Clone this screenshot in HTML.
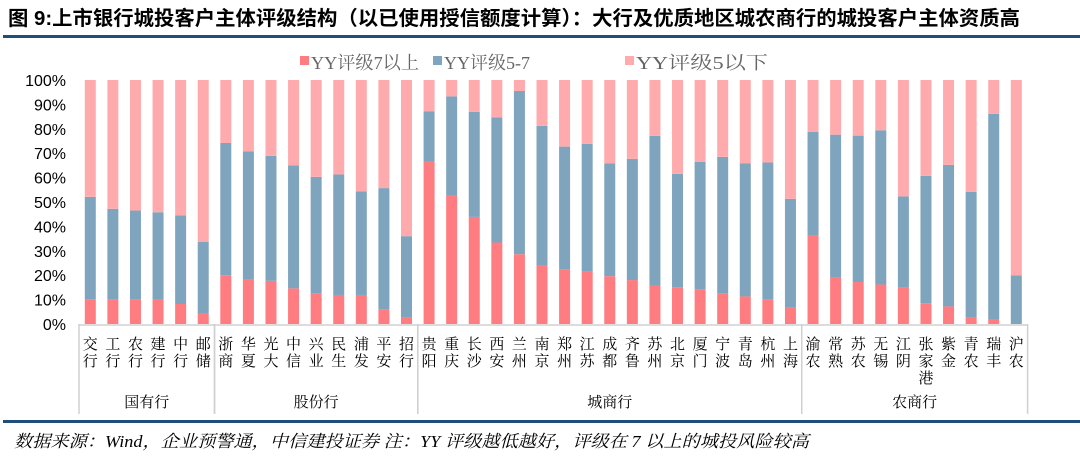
<!DOCTYPE html>
<html><head><meta charset="utf-8"><style>
body{margin:0;background:#fff;width:1080px;height:458px;overflow:hidden}
svg{display:block}
</style></head><body>
<svg id="chart" width="1080" height="458" xmlns="http://www.w3.org/2000/svg">
<text x="8" y="25" font-family="Liberation Sans, Noto Sans CJK SC, sans-serif" font-weight="bold" font-size="20" textLength="1012" lengthAdjust="spacingAndGlyphs" fill="#000">图 9:上市银行城投客户主体评级结构（以已使用授信额度计算）：大行及优质地区城农商行的城投客户主体资质高</text>
<rect x="3" y="35" width="1077" height="3" fill="#1f4e79"/>
<g font-family="Liberation Serif, Noto Serif CJK SC, serif" font-size="18" fill="#666">
<rect x="300" y="56" width="9" height="9" fill="#FF7C80"/>
<text x="311" y="69" textLength="108" lengthAdjust="spacingAndGlyphs">YY评级7以上</text>
<rect x="433" y="56" width="9" height="9" fill="#7FA4BE"/>
<text x="444" y="69">YY评级5-7</text>
<rect x="625" y="56" width="9" height="9" fill="#FFABAD"/>
<text x="636" y="69" textLength="132" lengthAdjust="spacingAndGlyphs">YY评级5以下</text>
</g>
<g id="plot"></g>
<rect x="3" y="420" width="1077" height="3" fill="#1f4e79"/>
<text x="14" y="447" font-family="Liberation Serif, Noto Serif CJK SC, serif" font-style="italic" font-size="17" textLength="795" lengthAdjust="spacingAndGlyphs" fill="#000">数据来源：Wind，企业预警通，中信建投证券  注：YY 评级越低越好，评级在 7 以上的城投风险较高</text>
</svg>
<script>
const categories=["交行","工行","农行","建行","中行","邮储","浙商","华夏","光大","中信","兴业","民生","浦发","平安","招行","贵阳","重庆","长沙","西安","兰州","南京","郑州","江苏","成都","齐鲁","苏州","北京","厦门","宁波","青岛","杭州","上海","渝农","常熟","苏农","无锡","江阴","张家港","紫金","青农","瑞丰","沪农"];
const highShare=[10.2,10.1,10.1,10,8.2,4.5,20,18.1,17.7,14.6,12.4,11.9,11.9,6,2.6,66.8,52.5,43.9,33.4,28.6,24,22.5,21.4,19.6,18,15.6,15.1,14.2,12.4,11.3,10.1,6.7,36.3,19,17.2,16.2,14.9,8.5,7.2,2.6,1.8,0];
const midShare=[41.9,37.1,36.4,35.8,36.3,29.1,54.2,52.7,51.2,50.4,47.9,49.4,42.5,49.7,33.4,20.4,40.8,43,51.3,66.9,57.2,50.2,52.4,46.2,49.7,61.5,46.4,52.2,56.1,54.6,56.1,44.6,42.4,58.6,60,63.2,37.4,52.2,58,51.6,84.3,19.9];
const groups=[["国有行",0,6],["股份行",6,15],["城商行",15,32],["农商行",32,42]];
const yTicks=[0,10,20,30,40,50,60,70,80,90,100];
const NS="http://www.w3.org/2000/svg",plot=document.getElementById('plot');
const X0=79,STEP=(1027.6-79)/42,Y0=324,Y100=80,BW=11;
function y(v){return Y0-(Y0-Y100)*v/100}
function xc(i){return X0+STEP*(i+0.5)}
function mk(t,a){const e=document.createElementNS(NS,t);for(const k in a)e.setAttribute(k,a[k]);plot.appendChild(e);return e}
yTicks.forEach(v=>{const t=mk('text',{x:66,y:y(v)+6,'text-anchor':'end','font-family':'Liberation Sans, sans-serif','font-size':16,fill:'#000'});


t.textContent=v+'%';});
categories.forEach((c,i)=>{const h=highShare[i],m=midShare[i],x=xc(i)-BW/2;
const r1=mk('rect',{x:x,y:y(h),width:BW,height:y(0)-y(h),fill:'#FF7C80'});


const r2=mk('rect',{x:x,y:y(h+m),width:BW,height:y(h)-y(h+m),fill:'#7FA4BE'});


const r3=mk('rect',{x:x,y:y(100),width:BW,height:y(h+m)-y(100),fill:'#FFABAD'});


const t=mk('text',{'font-family':'Noto Serif CJK SC, serif','font-size':15,fill:'#000','text-anchor':'middle'});


[...c].forEach((ch,k)=>{const s=document.createElementNS(NS,'tspan');s.setAttribute('x',xc(i));s.setAttribute('y',349+k*17);s.textContent=ch;t.appendChild(s);});});
const ax=mk('line',{x1:X0,x2:1027.6,y1:Y0+1,y2:Y0+1,stroke:'#d0d0d0','stroke-width':1.5});


groups.forEach(g=>{[g[1],g[2]].forEach(b=>{const l=mk('line',{x1:X0+STEP*b,x2:X0+STEP*b,y1:Y0,y2:414,stroke:'#d0d0d0','stroke-width':1.5});

});
const t=mk('text',{x:X0+STEP*(g[1]+g[2])/2,y:407,'text-anchor':'middle','font-family':'Noto Serif CJK SC, serif','font-size':15,fill:'#000'});


t.textContent=g[0];});
</script>
</body></html>
